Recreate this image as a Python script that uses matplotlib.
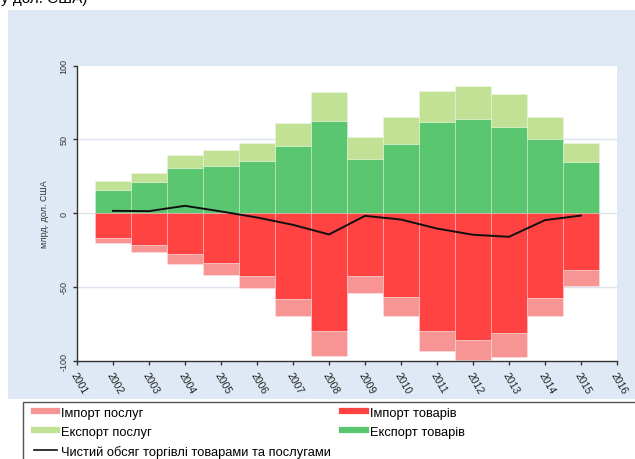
import matplotlib
matplotlib.use('Agg')
import matplotlib.pyplot as plt
import numpy as np
from matplotlib.patches import Rectangle
from matplotlib.lines import Line2D

plt.rcParams['font.family'] = ['Liberation Sans', 'DejaVu Sans']

# Дані (млрд. дол. США)
years = [2002, 2003, 2004, 2005, 2006, 2007, 2008, 2009, 2010, 2011, 2012, 2013, 2014, 2015]
export_goods = [15.8, 21.2, 30.4, 31.8, 35.6, 45.5, 62.6, 36.5, 46.6, 61.7, 64.0, 58.3, 50.0, 34.7]
export_services = [6.0, 5.8, 8.8, 10.8, 12.1, 15.8, 19.4, 15.3, 18.5, 21.4, 22.0, 22.6, 14.9, 12.6]
import_goods = [-16.9, -21.4, -27.5, -34.0, -42.3, -57.9, -80.0, -42.3, -56.5, -80.0, -86.3, -81.1, -57.7, -38.5]
import_services = [-3.4, -4.7, -7.0, -7.7, -8.6, -11.5, -16.9, -12.0, -12.9, -13.7, -13.5, -16.4, -12.1, -10.8]
net_trade = [1.6, 1.4, 5.0, 1.2, -2.9, -7.9, -14.4, -1.8, -4.3, -10.4, -14.6, -16.0, -4.7, -1.6]
xtick_years = list(range(2001, 2017))

c_imp_serv = '#F79494'
c_imp_goods = '#FF4242'
c_exp_serv = '#C1E294'
c_exp_goods = '#5BC670'

W, H = 635, 460
fig = plt.figure(figsize=(W / 100, H / 100), dpi=100)
fig.patch.set_facecolor('white')

# фон рисунку
fig.patches.append(Rectangle((8 / W, 1 - 400 / H), 627 / W, 389 / H, transform=fig.transFigure,
                             facecolor='#DEE9F5', edgecolor='none', zorder=-10))
# обрізаний текст зверху (рядок підпису, видно лише низ)
fig.text(1 / W, 1 + 1 / H, 'у дол. США)', fontsize=11, color='black', va='center', ha='left')

ax = fig.add_axes([77 / W, 1 - 361.7 / H, 540 / W, 295 / H])
ax.set_facecolor('white')

ec = (1, 1, 1, 0.3)
ax.bar(years, export_goods, width=1, color=c_exp_goods, edgecolor=ec, linewidth=0.6, zorder=2)
ax.bar(years, export_services, width=1, bottom=export_goods, color=c_exp_serv, edgecolor=ec, linewidth=0.6, zorder=2)
ax.bar(years, import_goods, width=1, color=c_imp_goods, edgecolor=ec, linewidth=0.6, zorder=2)
ax.bar(years, import_services, width=1, bottom=import_goods, color=c_imp_serv, edgecolor=ec, linewidth=0.6, zorder=2)
ax.plot(years, net_trade, color='#111111', linewidth=1.4, zorder=3)

ax.set_xlim(2001, 2016)
ax.set_ylim(-100, 100)
ax.set_yticks([-100, -50, 0, 50, 100])
ax.set_yticklabels(['-100', '-50', '0', '50', '100'], rotation=90, va='center', fontsize=6.5, color='#333333')
ax.set_xticks(xtick_years)
ax.set_xticklabels([str(y) for y in xtick_years], rotation=-60, ha='left', va='top',
                   rotation_mode='anchor', fontsize=7.5, color='#222222')
ax.tick_params(axis='both', length=3, width=1, color='#333333', direction='out')
ax.tick_params(axis='y', pad=3)
ax.tick_params(axis='x', pad=4)
for y in [-50, 0, 50]:
    ax.axhline(y, color='#DCE3EE', linewidth=1, zorder=1)
for s in ['top', 'right']:
    ax.spines[s].set_visible(False)
for s in ['left', 'bottom']:
    ax.spines[s].set_color('#333333')
    ax.spines[s].set_linewidth(1)
ax.set_ylabel('млрд. дол. США', fontsize=6.5, color='#333333', labelpad=8)

# рамка легенди
fig.patches.append(Rectangle((23 / W, -0.05), 1.0, (1 - 403 / H) + 0.05, transform=fig.transFigure,
                             facecolor='white', edgecolor='#555555', linewidth=1, zorder=-5))

handles = [
    Line2D([], [], color=c_imp_serv, lw=4.5),
    Line2D([], [], color=c_exp_serv, lw=4.5),
    Line2D([], [], color='#111111', lw=1.2),
    Line2D([], [], color=c_imp_goods, lw=4.5),
    Line2D([], [], color=c_exp_goods, lw=4.5),
]
labels = ['Імпорт послуг', 'Експорт послуг', 'Чистий обсяг торгівлі товарами та послугами',
          'Імпорт товарів', 'Експорт товарів']
fig.legend(handles, labels, ncol=2, loc='upper left', bbox_to_anchor=(31 / W, 1 - 405 / H),
           frameon=False, fontsize=9.3, handlelength=1.85, handletextpad=0.3,
           labelspacing=0.55, columnspacing=0.85, borderaxespad=0, borderpad=0.2)

plt.savefig('out.png', dpi=100)
